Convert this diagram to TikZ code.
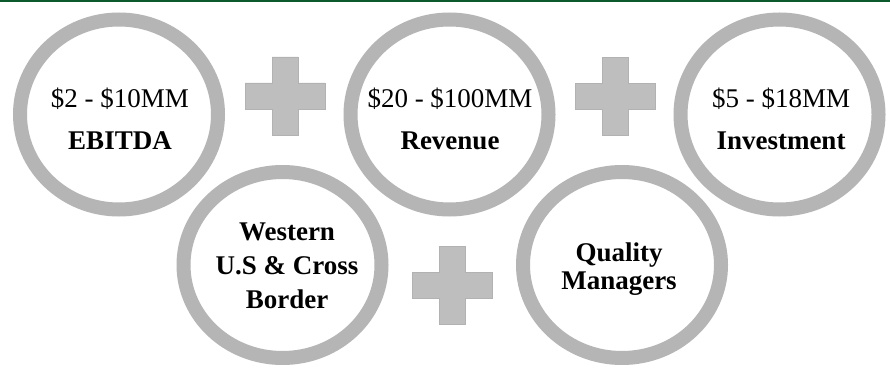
\documentclass[tikz,border=0pt]{standalone}
\usepackage{fontspec}
\setmainfont{Liberation Serif}
\usetikzlibrary{shapes.geometric}
\definecolor{ringgray}{HTML}{B5B5B5}
\definecolor{plusfill}{HTML}{BEBEBE}
\definecolor{plusedge}{HTML}{B2B2B2}
\definecolor{topgreen}{HTML}{0B5A2E}
\tikzset{
  ring/.style={draw=ringgray, fill=white, ellipse, line width=14pt, minimum width=198pt, minimum height=190pt, inner sep=0pt},
  txt/.style={align=center, inner sep=0pt, font=\fontsize{27}{42}\selectfont},
  plussign/.style={fill=plusfill, draw=plusedge, line width=0.8pt, line join=miter}
}
\begin{document}
\begin{tikzpicture}[x=1pt,y=-1pt]
\useasboundingbox (0,0) rectangle (890,371);
\fill[white] (0,0) rectangle (890,371);
\fill[topgreen] (0,0) rectangle (890,2);
\node[ring] (ebitdaring) at (119,114.5) {};
\node[ring] (revenuering) at (449.5,114.5) {};
\node[ring] (investring) at (779.5,114.5) {};
\node[ring, minimum height=186pt] (westernring) at (282.5,265) {};
\node[ring, minimum height=186pt] (qualityring) at (622,265) {};
\node[txt] (ebitda) at (120,119) {\$2 - \$10MM\\\textbf{EBITDA}};
\node[txt] (revenue) at (450,119) {\$20 - \$100MM\\\textbf{Revenue}};
\node[txt] (invest) at (781,119) {\$5 - \$18MM\\\textbf{Investment}};
\node[txt, font=\fontsize{27}{34}\selectfont\bfseries] (western) at (287,266) {Western\\U.S \& Cross\\Border};
\node[txt, font=\fontsize{27}{27.5}\selectfont\bfseries] (quality) at (619,269) {Quality\\Managers};
\coordinate (p1) at (285,96);
\coordinate (p2) at (615,96.5);
\coordinate (p3) at (452,285);
\foreach \p in {p1,p2,p3}{
  \filldraw[plussign] (\p) ++(-13,-39) -- ++(26,0) -- ++(0,26) -- ++(27,0) -- ++(0,26) -- ++(-27,0) -- ++(0,26) -- ++(-26,0) -- ++(0,-26) -- ++(-27,0) -- ++(0,-26) -- ++(27,0) -- cycle;
}
\end{tikzpicture}
\end{document}
